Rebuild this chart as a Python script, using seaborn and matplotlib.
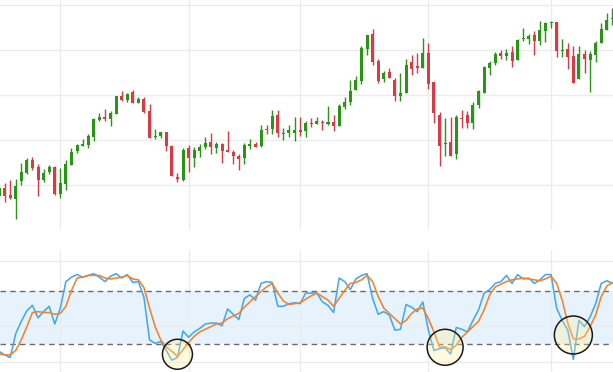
import matplotlib
matplotlib.use("Agg")
import numpy as np
import pandas as pd
import matplotlib.pyplot as plt
import seaborn as sns

# daily OHLC prices
opens = [97.6, 99.5, 97.9, 97.0, 101.0, 102.7, 105.6, 104.1, 101.2, 103.0,
         104.1, 98.1, 100.4, 104.6, 107.7, 108.7, 108.9, 110.7, 114.5, 115.1,
         114.7, 115.8, 119.8, 118.9, 120.6, 118.2, 119.1, 116.4, 110.7, 110.9,
         111.8, 108.7, 101.8, 101.2, 108.3, 106.1, 107.6, 108.5, 109.6, 108.3,
         109.1, 107.8, 107.4, 106.5, 106.1, 108.7, 109.1, 108.7, 112.5, 112.5,
         115.6, 111.4, 111.6, 111.6, 112.2, 112.0, 113.8, 113.6, 114.0, 113.6,
         114.0, 113.1, 117.3, 118.4, 121.1, 123.1, 130.2, 133.5, 127.5, 123.5,
         125.1, 123.3, 119.8, 120.4, 127.3, 126.4, 126.0, 129.3, 122.9, 115.6,
         109.1, 109.6, 106.9, 114.9, 115.6, 113.8, 117.8, 120.4, 126.0, 127.1,
         129.3, 128.6, 129.5, 127.7, 132.4, 132.4, 133.3, 131.9, 134.1, 135.9,
         136.1, 129.7, 130.2, 128.6, 123.5, 129.1, 127.7, 128.8, 131.5, 134.4, 136.8]
highs = [99.6, 100.5, 101.2, 101.4, 104.9, 106.1, 106.3, 104.7, 103.6, 104.5,
         104.3, 103.8, 105.6, 108.3, 109.1, 110.3, 111.4, 114.9, 116.0, 116.9,
         116.4, 119.8, 120.9, 120.4, 121.1, 119.5, 119.5, 118.0, 112.5, 111.8,
         111.8, 108.9, 102.7, 108.3, 108.9, 108.5, 109.1, 110.7, 111.6, 109.6,
         109.4, 112.0, 107.8, 106.9, 109.4, 110.3, 109.6, 113.4, 113.4, 116.7,
         116.7, 112.7, 113.4, 115.1, 115.1, 114.2, 114.9, 115.1, 114.5, 117.6,
         115.6, 118.0, 119.5, 123.3, 124.2, 130.8, 133.3, 134.6, 127.9, 125.3,
         126.0, 123.7, 124.9, 127.9, 128.8, 129.3, 132.6, 131.5, 122.9, 116.2,
         114.9, 115.1, 115.6, 116.7, 116.4, 118.4, 121.1, 126.4, 127.5, 129.5,
         130.0, 130.2, 130.8, 132.4, 134.8, 133.5, 134.1, 136.4, 136.1, 136.4,
         136.1, 132.4, 131.5, 130.8, 130.8, 130.0, 129.7, 131.9, 135.9, 138.1, 139.2]
lows = [97.4, 96.4, 97.0, 92.6, 100.1, 102.6, 103.5, 97.7, 100.8, 102.6,
        97.9, 97.2, 99.0, 104.6, 107.2, 108.7, 108.3, 109.8, 114.2, 114.2,
        113.1, 115.8, 118.7, 118.4, 118.2, 118.2, 116.0, 110.5, 110.3, 110.5,
        107.6, 102.1, 100.7, 101.0, 103.0, 104.1, 106.3, 108.0, 106.9, 107.2,
        104.9, 107.4, 104.7, 103.4, 104.7, 108.0, 108.5, 108.5, 111.4, 111.4,
        110.7, 110.0, 110.7, 109.8, 110.9, 110.8, 112.9, 113.6, 112.2, 113.4,
        112.0, 113.1, 116.9, 117.8, 121.1, 122.4, 128.8, 126.6, 122.6, 122.9,
        123.7, 118.7, 118.7, 120.4, 124.4, 124.9, 126.0, 121.3, 113.8, 104.3,
        106.5, 106.5, 105.8, 112.7, 112.7, 112.5, 117.1, 120.4, 124.4, 126.6,
        127.9, 127.7, 126.2, 127.7, 131.9, 131.3, 128.8, 131.0, 131.7, 134.8,
        128.4, 128.4, 125.7, 122.6, 123.5, 124.9, 120.6, 127.3, 131.5, 134.4, 135.5]
closes = [99.4, 97.6, 97.1, 99.9, 103.0, 105.6, 103.9, 101.2, 102.7, 104.1,
          98.1, 100.5, 104.7, 107.4, 108.9, 109.1, 110.9, 114.7, 115.1, 114.7,
          116.0, 119.8, 118.9, 120.2, 118.2, 119.1, 116.2, 110.5, 110.9, 111.8,
          108.7, 102.1, 101.4, 107.8, 106.1, 107.8, 108.5, 109.4, 108.5, 109.1,
          107.6, 107.4, 106.5, 105.8, 108.9, 109.1, 108.5, 112.2, 112.2, 115.3,
          111.6, 111.6, 112.2, 112.2, 111.8, 113.8, 113.6, 114.2, 113.8, 114.0,
          113.1, 117.6, 118.4, 120.9, 123.3, 130.4, 133.3, 127.3, 123.1, 124.9,
          123.7, 119.8, 120.4, 126.6, 125.7, 126.0, 129.3, 122.4, 116.0, 108.7,
          109.4, 106.5, 115.1, 114.7, 113.8, 117.8, 120.9, 126.2, 127.1, 129.1,
          128.6, 129.3, 127.5, 132.2, 132.6, 133.0, 131.9, 134.4, 135.9, 136.1,
          129.7, 129.9, 128.4, 122.6, 129.1, 127.9, 129.1, 131.5, 134.6, 136.6, 137.0]

# stochastic oscillator %K and %D
stoch_k = [12, 8, 5, 32, 46, 58, 64, 50, 57, 63,
           43, 61, 91, 96, 99, 96, 98, 100, 96, 91,
           97, 100, 95, 99, 90, 91, 73, 25, 21, 23,
           13, 2, 5, 35, 28, 34, 38, 43, 44, 44,
           41, 60, 54, 48, 72, 76, 70, 89, 91, 90,
           63, 63, 66, 67, 66, 78, 78, 78, 68, 64,
           56, 95, 91, 82, 94, 98, 100, 72, 54, 57,
           53, 36, 37, 65, 62, 57, 68, 36, 13, 15,
           16, 9, 39, 37, 34, 47, 59, 78, 82, 89,
           91, 98, 89, 99, 94, 95, 89, 93, 99, 99,
           61, 47, 36, 3, 47, 40, 51, 66, 89, 92, 89]
stoch_d = [9, 8, 8, 13, 25, 40, 56, 57, 56, 56,
           54, 55, 63, 81, 95, 96, 98, 98, 98, 95,
           94, 95, 96, 98, 94, 93, 84, 61, 40, 25,
           17, 12, 6, 14, 22, 29, 34, 37, 40, 43,
           44, 49, 52, 55, 62, 68, 74, 80, 85, 89,
           78, 69, 65, 66, 67, 71, 75, 78, 74, 70,
           63, 72, 81, 89, 90, 93, 98, 91, 74, 61,
           55, 49, 43, 47, 55, 60, 61, 49, 34, 17,
           17, 14, 19, 28, 34, 40, 46, 59, 76, 85,
           88, 91, 93, 94, 95, 94, 93, 92, 94, 97,
           89, 70, 44, 26, 26, 29, 40, 53, 74, 86, 90]

# highlighted oversold spots
marked_days = [32, 80, 103]
marked_levels = [8.7, 16.6, 30.5]

month_starts = [11, 34, 54, 77, 99]
price_grid = [100, 110, 120, 130, 140]
osc_grid = [0, 41, 114]

GREEN = "#289614"
RED = "#d73c46"
BLUE = "#42a8f2"
ORANGE = "#f5822a"
GRID = "#ececec"

sns.set_theme(style="white")
plt.rcParams["font.family"] = ["DejaVu Sans"]

df = pd.DataFrame({"day": np.arange(len(opens)), "open": opens, "high": highs,
                   "low": lows, "close": closes, "k": stoch_k, "d": stoch_d})

fig = plt.figure(figsize=(6.13, 3.72), dpi=100)
ax = fig.add_axes([0, 1 - 230 / 372, 1, 230 / 372])
ax2 = fig.add_axes([0, 0, 1, 122 / 372])

# candlesticks
up = df["close"] >= df["open"]
colors = np.where(up, GREEN, RED)
body_lo = np.minimum(df["open"], df["close"])
body_h = np.maximum((df["close"] - df["open"]).abs(), 0.25)
ax.vlines(df["day"], df["low"], df["high"], colors=colors, lw=1.0, zorder=2)
ax.bar(df["day"], body_h, bottom=body_lo, width=0.54, color=colors,
       linewidth=0, zorder=3)

ax.set_xlim(0.18, 110.11)
ax.set_ylim(90.12, 141.0)
ax.set_yticks(price_grid)
ax.set_xticks(month_starts)

# oscillator panel
ax2.axhspan(20, 80, color="#e6f3fd", zorder=0, lw=0)
sns.lineplot(data=df, x="day", y="k", color=BLUE, lw=1.15, ax=ax2, zorder=3)
sns.lineplot(data=df, x="day", y="d", color=ORANGE, lw=1.15, ax=ax2, zorder=4)
for lvl in (20, 80):
    ax2.axhline(lvl, color="#6b6b6b", lw=1, dashes=(4, 3), zorder=2)
ax2.scatter(marked_days, marked_levels, s=[466, 671, 748],
            facecolor=(1.0, 0.93, 0.6, 0.32), edgecolor="#1a1a1a",
            linewidth=1.1, zorder=5)
ax2.set_xlim(0.18, 110.11)
ax2.set_ylim(-11.4, 126.8)
ax2.set_yticks(osc_grid)
ax2.set_xticks(month_starts)

for a in (ax, ax2):
    a.set_axisbelow(True)
    a.grid(True, color=GRID, lw=1)
    a.tick_params(length=0, labelleft=False, labelbottom=False)
    a.set_xlabel("")
    a.set_ylabel("")
    for s in a.spines.values():
        s.set_visible(False)

fig.savefig("out.png", dpi=100)
